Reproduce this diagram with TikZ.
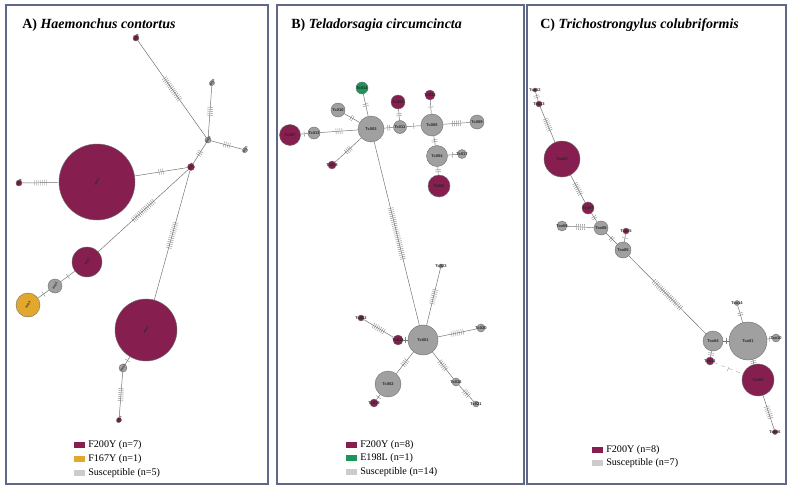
\documentclass[tikz,border=0pt]{standalone}
\usepackage{fontspec}
\setmainfont{Liberation Serif}
\setsansfont{Liberation Sans}
\usetikzlibrary{decorations.markings}
\definecolor{purp}{RGB}{134,31,80}
\definecolor{grayn}{RGB}{160,160,160}
\definecolor{yel}{RGB}{226,168,46}
\definecolor{grn}{RGB}{28,150,88}
\definecolor{legg}{RGB}{204,204,204}
\definecolor{frm}{RGB}{95,105,135}
\definecolor{edgec}{RGB}{110,110,110}
\tikzset{
  hp/.style={circle, draw=edgec, line width=0.3pt, inner sep=0pt, minimum size=#1*1.5pt},
  P/.style={fill=purp}, G/.style={fill=grayn}, Y/.style={fill=yel}, E/.style={fill=grn},
  lab/.style={font=\sffamily\bfseries\fontsize{3}{3}\selectfont, inner sep=0pt, text=black!85},
  laba/.style={font=\sffamily\bfseries\fontsize{2.3}{2.3}\selectfont, inner sep=0pt, text=black!85, rotate=60},
  ed/.style={draw=edgec, line width=0.35pt},
  tick/.style={draw=black!50, line width=0.25pt},
  mut/.style={postaction={decorate, decoration={markings, mark=at position 0.5 with {\foreach \k in {1,...,#1}{\draw[tick] ({(\k-(#1+1)/2)*1.5pt},-2.2pt) -- ({(\k-(#1+1)/2)*1.5pt},2.2pt);}}}}},
  frame/.style={draw=frm, line width=0.8pt},
  ttl/.style={font=\bfseries\fontsize{10.5}{12}\selectfont, anchor=west, inner sep=0pt},
  leg/.style={font=\fontsize{7.6}{9}\selectfont, anchor=west, inner sep=0pt},
  legbox/.style={minimum width=8pt, minimum height=5pt, inner sep=0pt, anchor=west}
}
\begin{document}
\begin{tikzpicture}[x=0.75pt,y=-0.75pt]
\useasboundingbox (0,0) rectangle (789,489);
\fill[white] (0,0) rectangle (789,489);
% frames
\draw[frame] (6,5) rectangle (268,484);
\draw[frame] (277,5) rectangle (524,484);
\draw[frame] (527,5) rectangle (786,484);
% titles
\node[ttl] (tA) at (22,25) {A) \textit{Haemonchus contortus}};
\node[ttl] (tB) at (291,25) {B) \textit{Teladorsagia circumcincta}};
\node[ttl] (tC) at (540,25) {C) \textit{Trichostrongylus colubriformis}};

%% Panel A
\node[hp=3,P] (a1) at (136,38) {};
\node[hp=2.5,G] (a2) at (212,83) {};
\node[hp=3,G] (a3) at (208,140) {};
\node[hp=2.5,G] (a4) at (245,150) {};
\node[hp=3.5,P] (a5) at (191,167) {};
\node[hp=38,P] (a6) at (97,182) {};
\node[hp=3,P] (a7) at (19,183) {};
\node[hp=15,P] (a8) at (87,262) {};
\node[hp=7,G] (a9) at (55,286) {};
\node[hp=12,Y] (a10) at (28,305) {};
\node[hp=31,P] (a11) at (146,330) {};
\node[hp=4,G] (a12) at (123,368) {};
\node[hp=2.5,P] (a13) at (119,420) {};
\foreach \n/\t in {a1/Hc09,a2/Hc10,a3/Hc06,a4/Hc11,a5/Hc07,a6/Hc01,a7/Hc08,a8/Hc03,a9/Hc05,a10/Hc04,a11/Hc02,a12/Hc12,a13/Hc13}
  \node[laba] at (\n) {\t};
\path[ed,mut=14] (a1) -- (a3);
\path[ed,mut=5] (a3) -- (a2);
\path[ed,mut=4] (a3) -- (a4);
\path[ed,mut=3] (a3) -- (a5);
\path[ed,mut=3] (a5) -- (a6);
\path[ed,mut=15] (a5) -- (a8);
\path[ed,mut=14] (a5) -- (a11);
\path[ed,mut=7] (a7) -- (a6);
\path[ed,mut=1] (a8) -- (a9);
\path[ed,mut=1] (a9) -- (a10);
\path[ed,mut=1] (a11) -- (a12);
\path[ed,mut=7] (a12) -- (a13);
% legend A
\node[legbox,fill=purp] (lA1) at (74,445) {};
\node[legbox,fill=yel] (lA2) at (74,459) {};
\node[legbox,fill=legg] (lA3) at (74,473) {};
\node[leg] at (88,445) {F200Y (n=7)};
\node[leg] at (88,459) {F167Y (n=1)};
\node[leg] at (88,473) {Susceptible (n=5)};

%% Panel B
\node[hp=13,G] (b3) at (371,129) {};
\node[hp=6,E] (b14) at (362,88) {};
\node[hp=7,G] (b10) at (338,110) {};
\node[hp=10.5,P] (b7) at (290,135) {};
\node[hp=6,G] (b13) at (314,133) {};
\node[hp=4,P] (b18) at (332,165) {};
\node[hp=6.5,G] (b11) at (400,127) {};
\node[hp=7,P] (b8) at (398,102) {};
\node[hp=11,G] (b5) at (432,125) {};
\node[hp=5,P] (b12) at (430,95) {};
\node[hp=7,G] (b9) at (477,122) {};
\node[hp=10.5,G] (b4) at (437,156) {};
\node[hp=4.5,G] (b17) at (462,154) {};
\node[hp=11,P] (b6) at (439,186) {};
\node[hp=15,G] (b1) at (423,340) {};
\node[hp=5,P] (b15) at (398,340) {};
\node[hp=3,P] (b22) at (361,318) {};
\node[hp=2,G] (b23) at (441,266) {};
\node[hp=4,G] (b20) at (481,328) {};
\node[hp=4,G] (b16) at (456,382) {};
\node[hp=3,G] (b21) at (476,404) {};
\node[hp=13,G] (b2) at (388,384) {};
\node[hp=4,P] (b19) at (374,403) {};
\foreach \n/\t in {b1/Tc001,b2/Tc002,b3/Tc003,b4/Tc004,b5/Tc005,b6/Tc006,b7/Tc007,b8/Tc008,b9/Tc009,b10/Tc010,b11/Tc011,b12/Tc012,b13/Tc013,b14/Tc014,b15/Tc015,b16/Tc016,b17/Tc017,b18/Tc018,b19/Tc019,b20/Tc020,b21/Tc021,b22/Tc022,b23/Tc023}
  \node[lab] at (\n) {\t};
\path[ed,mut=2] (b3) -- (b14);
\path[ed,mut=2] (b3) -- (b10);
\path[ed,mut=4] (b3) -- (b13);
\path[ed,mut=1] (b13) -- (b7);
\path[ed,mut=4] (b3) -- (b18);
\path[ed,mut=2] (b3) -- (b11);
\path[ed,mut=2] (b11) -- (b8);
\path[ed,mut=1] (b11) -- (b5);
\path[ed,mut=1] (b5) -- (b12);
\path[ed,mut=5] (b5) -- (b9);
\path[ed,mut=2] (b5) -- (b4);
\path[ed,mut=1] (b4) -- (b17);
\path[ed,mut=2] (b4) -- (b6);
\path[ed,mut=27] (b3) -- (b1);
\path[ed,mut=8] (b1) -- (b23);
\path[ed,mut=1] (b1) -- (b15);
\path[ed,mut=7] (b15) -- (b22);
\path[ed,mut=7] (b1) -- (b20);
\path[ed,mut=6] (b1) -- (b16);
\path[ed,mut=4] (b16) -- (b21);
\path[ed,mut=4] (b1) -- (b2);
\path[ed,mut=1] (b2) -- (b19);
% legend B
\node[legbox,fill=purp] (lB1) at (346,445) {};
\node[legbox,fill=grn] (lB2) at (346,458) {};
\node[legbox,fill=legg] (lB3) at (346,472) {};
\node[leg] at (360,445) {F200Y (n=8)};
\node[leg] at (360,458) {E198L (n=1)};
\node[leg] at (360,472) {Susceptible (n=14)};

%% Panel C
\node[hp=2,P] (c12) at (535,90) {};
\node[hp=3,P] (c13) at (539,104) {};
\node[hp=18,P] (c3) at (562,159) {};
\node[hp=6,P] (c7) at (588,208) {};
\node[hp=5,G] (c9) at (562,226) {};
\node[hp=7,G] (c8) at (601,228) {};
\node[hp=3,P] (c15) at (626,231) {};
\node[hp=8,G] (c5) at (623,250) {};
\node[hp=10,G] (c4) at (713,341) {};
\node[hp=19,G] (c1) at (748,341) {};
\node[hp=4,G] (c10) at (776,338) {};
\node[hp=2.5,G] (c14) at (737,303) {};
\node[hp=4,P] (c11) at (710,361) {};
\node[hp=16,P] (c2) at (758,380) {};
\node[hp=2.5,P] (c6) at (775,432) {};
\foreach \n/\t in {c1/Tco01,c2/Tco02,c3/Tco03,c4/Tco04,c5/Tco05,c6/Tco06,c7/Tco07,c8/Tco08,c9/Tco09,c10/Tco10,c11/Tco11,c12/Tco12,c13/Tco13,c14/Tco14,c15/Tco15}
  \node[lab] at (\n) {\t};
\path[ed,mut=2] (c12) -- (c13);
\path[ed,mut=7] (c13) -- (c3);
\path[ed,mut=7] (c3) -- (c7);
\path[ed,mut=2] (c7) -- (c8);
\path[ed,mut=5] (c8) -- (c9);
\path[ed,mut=2] (c8) -- (c5);
\path[ed,mut=1] (c5) -- (c15);
\path[ed,mut=20] (c5) -- (c4);
\path[ed,mut=1] (c4) -- (c1);
\path[ed,mut=1] (c1) -- (c10);
\path[ed,mut=2] (c1) -- (c14);
\path[ed,mut=2] (c4) -- (c11);
\path[draw=black!30, line width=0.35pt, dashed, mut=1] (c11) -- (c2);
\path[ed,mut=2] (c1) -- (c2);
\path[ed,mut=7] (c2) -- (c6);
% legend C
\node[legbox,fill=purp] (lC1) at (592,450) {};
\node[legbox,fill=legg] (lC2) at (592,463) {};
\node[leg] at (606,450) {F200Y (n=8)};
\node[leg] at (606,463) {Susceptible (n=7)};
\end{tikzpicture}
\end{document}
